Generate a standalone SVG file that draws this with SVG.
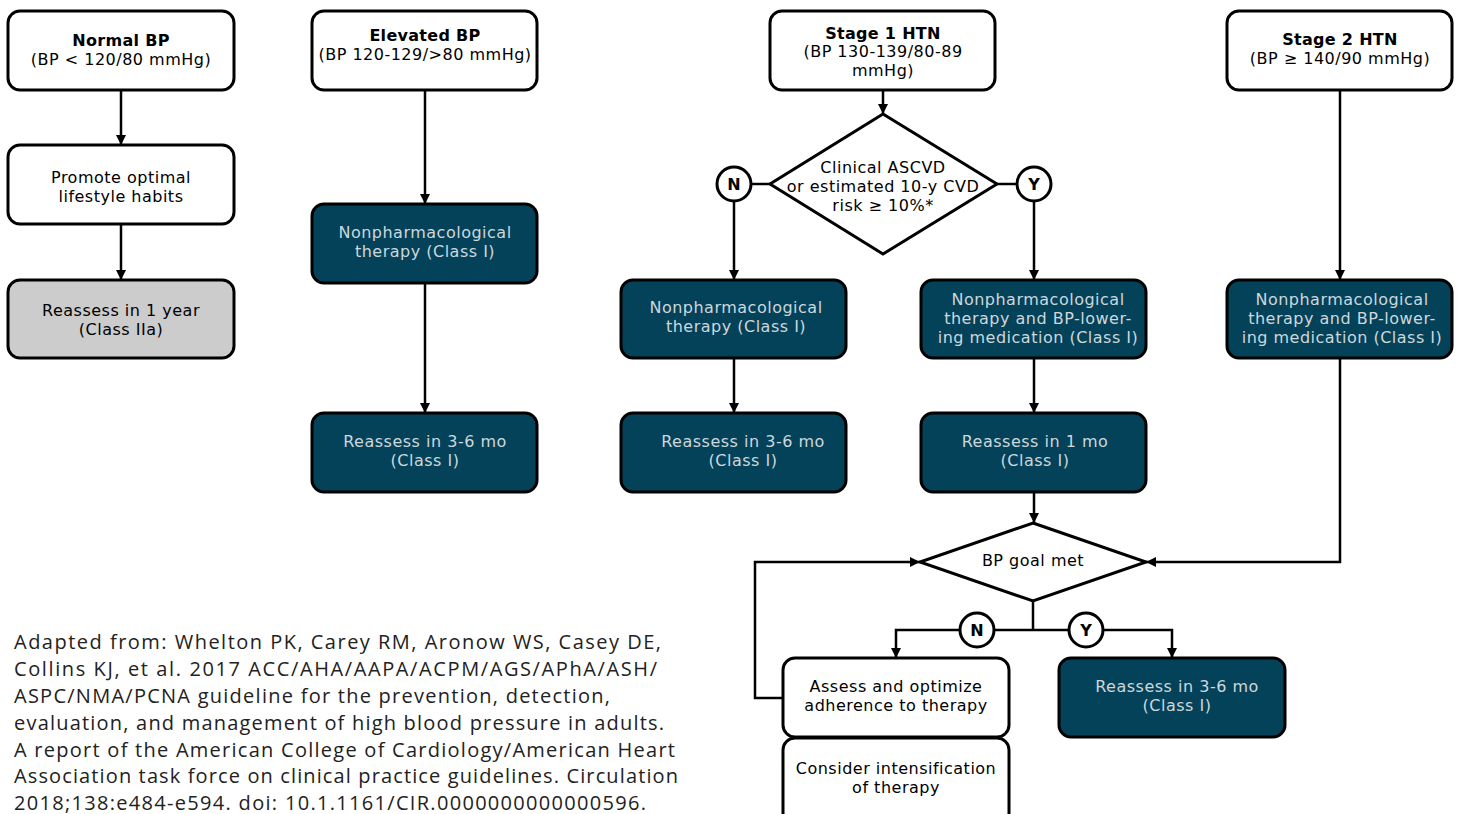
<svg xmlns="http://www.w3.org/2000/svg" width="1457" height="814" viewBox="0 0 1457 814">
<defs>
<marker id="ah" viewBox="0 0 10 10" refX="10" refY="5" markerWidth="4" markerHeight="4" orient="auto" markerUnits="strokeWidth"><path d="M0,0 L10,5 L0,10 z" fill="#000"/></marker>
<style>
.box{fill:#fff;stroke:#000;stroke-width:3}
.dk{fill:#044259;stroke:#000;stroke-width:3}
.gr{fill:#cccccc;stroke:#000;stroke-width:3}
.t{font-family:"DejaVu Sans",sans-serif;font-size:16px;letter-spacing:0.5px;fill:#000;text-anchor:middle}
.b{font-weight:bold;letter-spacing:0.3px}
.lt{fill:#cdd7dc}
.c{fill:#fff;stroke:#000;stroke-width:3}
.cl{font-family:"DejaVu Sans",sans-serif;font-size:16px;font-weight:bold;text-anchor:middle}
.ln{fill:none;stroke:#000;stroke-width:2.5}
.cite{font-family:"Open Sans",sans-serif;font-size:20px;fill:#222}
</style>
</defs>
<rect width="1457" height="814" fill="#fff"/>
<g id="connectors">
<path class="ln" d="M121,90 V145" marker-end="url(#ah)"/>
<path class="ln" d="M121,224 V280" marker-end="url(#ah)"/>
<path class="ln" d="M425,90 V204" marker-end="url(#ah)"/>
<path class="ln" d="M425,283 V413" marker-end="url(#ah)"/>
<path class="ln" d="M883,90 V114" marker-end="url(#ah)"/>
<path class="ln" d="M770,184 H751"/>
<path class="ln" d="M997,184 H1017"/>
<path class="ln" d="M734,201 V280" marker-end="url(#ah)"/>
<path class="ln" d="M1034,201 V280" marker-end="url(#ah)"/>
<path class="ln" d="M734,358 V413" marker-end="url(#ah)"/>
<path class="ln" d="M1034,358 V413" marker-end="url(#ah)"/>
<path class="ln" d="M1340,90 V280" marker-end="url(#ah)"/>
<path class="ln" d="M1034,492 V523" marker-end="url(#ah)"/>
<path class="ln" d="M1340,358 V562 H1146" marker-end="url(#ah)"/>
<path class="ln" d="M1033,601 V630"/>
<path class="ln" d="M960,630 H896 V658" marker-end="url(#ah)"/>
<path class="ln" d="M994,630 H1069"/>
<path class="ln" d="M1103,630 H1172 V658" marker-end="url(#ah)"/>
<path class="ln" d="M783,698 H755 V562 H920" marker-end="url(#ah)"/>
</g>
<g id="normal-bp"><rect class="box" x="8" y="11" width="226" height="79" rx="12"/><text class="t b" x="121" y="46">Normal BP</text><text class="t" x="121" y="65">(BP &lt; 120/80 mmHg)</text></g>
<g id="promote"><rect class="box" x="8" y="145" width="226" height="79" rx="12"/><text class="t" x="121" y="183">Promote optimal</text><text class="t" x="121" y="202">lifestyle habits</text></g>
<g id="reassess-1y"><rect class="gr" x="8" y="280" width="226" height="78" rx="12"/><text class="t" x="121" y="316">Reassess in 1 year</text><text class="t" x="121" y="335">(Class IIa)</text></g>
<g id="elevated-bp"><rect class="box" x="312" y="11" width="225" height="79" rx="12"/><text class="t b" x="425" y="41">Elevated BP</text><text class="t" x="425" y="60">(BP 120-129/&gt;80 mmHg)</text></g>
<g id="elev-nonpharm"><rect class="dk" x="312" y="204" width="225" height="79" rx="12"/><text class="t lt" x="425" y="238">Nonpharmacological</text><text class="t lt" x="425" y="257">therapy (Class I)</text></g>
<g id="elev-reassess"><rect class="dk" x="312" y="413" width="225" height="79" rx="12"/><text class="t lt" x="425" y="447">Reassess in 3-6 mo</text><text class="t lt" x="425" y="466">(Class I)</text></g>
<g id="stage1"><rect class="box" x="770" y="11" width="225" height="79" rx="12"/><text class="t b" x="883" y="39">Stage 1 HTN</text><text class="t" x="883" y="57">(BP 130-139/80-89</text><text class="t" x="883" y="76">mmHg)</text></g>
<g id="ascvd"><path class="c" d="M883,114 L997,184 L883,254 L770,184 Z"/><text class="t" x="883" y="173">Clinical ASCVD</text><text class="t" x="883" y="192">or estimated 10-y CVD</text><text class="t" x="883" y="211">risk ≥ 10%*</text></g>
<g id="n1"><circle class="c" cx="734" cy="184" r="17"/><text class="cl" x="734" y="190">N</text></g>
<g id="y1"><circle class="c" cx="1034" cy="184" r="17"/><text class="cl" x="1034" y="190">Y</text></g>
<g id="s1-nonpharm"><rect class="dk" x="621" y="280" width="225" height="78" rx="12"/><text class="t lt" x="736" y="313">Nonpharmacological</text><text class="t lt" x="736" y="332">therapy (Class I)</text></g>
<g id="s1-nonpharm-med"><rect class="dk" x="921" y="280" width="225" height="78" rx="12"/><text class="t lt" x="1038" y="305">Nonpharmacological</text><text class="t lt" x="1038" y="324">therapy and BP-lower-</text><text class="t lt" x="1038" y="343">ing medication (Class I)</text></g>
<g id="s1-reassess"><rect class="dk" x="621" y="413" width="225" height="79" rx="12"/><text class="t lt" x="743" y="447">Reassess in 3-6 mo</text><text class="t lt" x="743" y="466">(Class I)</text></g>
<g id="s1-reassess-1mo"><rect class="dk" x="921" y="413" width="225" height="79" rx="12"/><text class="t lt" x="1035" y="447">Reassess in 1 mo</text><text class="t lt" x="1035" y="466">(Class I)</text></g>
<g id="stage2"><rect class="box" x="1227" y="11" width="225" height="79" rx="12"/><text class="t b" x="1340" y="45">Stage 2 HTN</text><text class="t" x="1340" y="64">(BP ≥ 140/90 mmHg)</text></g>
<g id="s2-nonpharm-med"><rect class="dk" x="1227" y="280" width="225" height="78" rx="12"/><text class="t lt" x="1342" y="305">Nonpharmacological</text><text class="t lt" x="1342" y="324">therapy and BP-lower-</text><text class="t lt" x="1342" y="343">ing medication (Class I)</text></g>
<g id="goal"><path class="c" d="M1033,523 L1146,562 L1033,601 L920,562 Z"/><text class="t" x="1033" y="566">BP goal met</text></g>
<g id="n2"><circle class="c" cx="977" cy="630" r="17"/><text class="cl" x="977" y="636">N</text></g>
<g id="y2"><circle class="c" cx="1086" cy="630" r="17"/><text class="cl" x="1086" y="636">Y</text></g>
<g id="assess"><rect class="box" x="783" y="658" width="226" height="79" rx="12"/><text class="t" x="896" y="692">Assess and optimize</text><text class="t" x="896" y="711">adherence to therapy</text></g>
<g id="intensify"><rect class="box" x="783" y="738" width="226" height="90" rx="12"/><text class="t" x="896" y="774">Consider intensification</text><text class="t" x="896" y="793">of therapy</text></g>
<g id="final-reassess"><rect class="dk" x="1059" y="658" width="226" height="79" rx="12"/><text class="t lt" x="1177" y="692">Reassess in 3-6 mo</text><text class="t lt" x="1177" y="711">(Class I)</text></g>
<g id="citation" class="cite">
<text x="14" y="649" textLength="647" lengthAdjust="spacing">Adapted from: Whelton PK, Carey RM, Aronow WS, Casey DE,</text>
<text x="14" y="676" textLength="643" lengthAdjust="spacing">Collins KJ, et al. 2017 ACC/AHA/AAPA/ACPM/AGS/APhA/ASH/</text>
<text x="14" y="703" textLength="596" lengthAdjust="spacing">ASPC/NMA/PCNA guideline for the prevention, detection,</text>
<text x="14" y="730" textLength="650" lengthAdjust="spacing">evaluation, and management of high blood pressure in adults.</text>
<text x="14" y="757" textLength="661" lengthAdjust="spacing">A report of the American College of Cardiology/American Heart</text>
<text x="14" y="783" textLength="664" lengthAdjust="spacing">Association task force on clinical practice guidelines. Circulation</text>
<text x="14" y="810" textLength="632" lengthAdjust="spacing">2018;138:e484-e594. doi: 10.1.1161/CIR.0000000000000596.</text>
</g>
</svg>
